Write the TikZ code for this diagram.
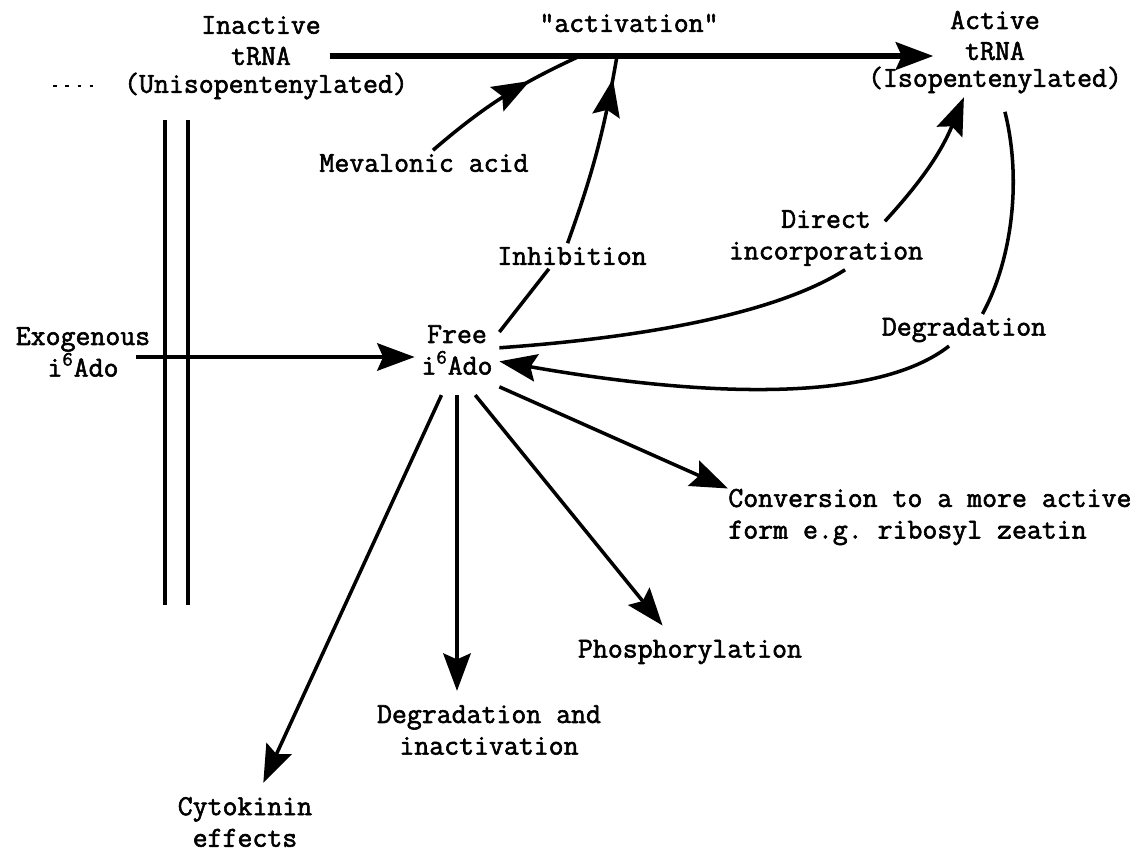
\documentclass[tikz,border=0pt]{standalone}
\usepackage{fontspec}
\setmonofont{Latin Modern Mono}[FakeBold=2]
\usetikzlibrary{arrows.meta,decorations.markings}
\tikzset{
	every node/.style={font=\ttfamily\fontsize{16.5}{18}\selectfont, inner sep=2pt, align=center},
	arr/.style={line width=2pt, -{Stealth[length=0.75cm,width=0.55cm,inset=0.12cm]}},
	midhead/.style={line width=2pt, postaction={decorate}, decoration={markings,
		mark=at position #1 with {\arrow{Stealth[length=0.75cm,width=0.55cm,inset=0.12cm]}}}},
	target/.style={inner sep=0.28cm}
}
\begin{document}
\begin{tikzpicture}[x=0.02cm, y=-0.02cm]
\useasboundingbox (0,0) rectangle (1147,856);
\node (inact) at (261,25) {Inactive};
\node (inact-t) at (261,56) {tRNA};
\node (unisop) at (266,86) {(Unisopentenylated)};
\node (activ) at (629,23) {"activation"};
\node (act) at (995,20) {Active};
\node (act-t) at (995,51) {tRNA};
\node (isop) at (995,80) {(Isopentenylated)};
\node (mev) at (424,163) {Mevalonic acid};
\node (inhib) at (572,256) {Inhibition};
\node (dinc) at (826,238) {Direct\\incorporation};
\node (deg) at (964,330) {Degradation};
\node (exo) at (83,352) {Exogenous\\i\textsuperscript{6}Ado};
\node[inner xsep=0.13cm, inner ysep=0.4cm] (free) at (457,350) {Free\\i\textsuperscript{6}Ado};
\node[anchor=west, align=left, inner sep=0pt] (conv) at (728,517) {Conversion to a more active\\form e.g. ribosyl zeatin};
\node[target] (phos) at (690,652) {Phosphorylation};
\node[target] (degin) at (489,730) {Degradation and\\inactivation};
\node[target] (cyto) at (245,822) {Cytokinin\\effects};
\coordinate (mev-end) at (580,56);
\coordinate (inh-end) at (617,56);
\draw[arr, line width=3pt, shorten <=0.7cm, shorten >=0.56cm] (inact-t.east) -- (inact-t.east -| act-t.west);
\draw[line width=1pt, dash pattern=on 2pt off 5pt, shorten >=0.4cm] (53,86) -- (unisop.west);
\draw[line width=1.8pt] (165,120) -- (165,605) (188,120) -- (188,605);
\draw[midhead=0.68] ([xshift=0.18cm]mev.north) to[bend left=8] (mev-end);
\draw[line width=2pt] (free.23) -- (inhib.-151);
\draw[midhead=0.88] (inhib.109) to[bend right=5] (inh-end);
\draw[line width=2pt] (free.3) .. controls (680,335) and (790,305) .. (dinc.-59);
\draw[arr] ([xshift=-0.84cm,yshift=-0.3cm]dinc.north east) to[bend right=10] (isop.-151);
\draw[line width=2pt, shorten <=0.3cm] (isop.-70) .. controls (1022,180) and (1012,260) .. (deg.41);
\draw[arr] (deg.-133) .. controls (880,400) and (720,400) .. (free.-15);
\draw[arr] ([xshift=-0.36cm,yshift=-0.1cm]exo.east) -- ([yshift=-0.1cm]exo.east -| free.west);
\draw[arr] (free.-41) -- (conv.north west);
\draw[arr] (free.-68) -- (phos.136);
\draw[arr] (free.south) -- (free.south |- degin.north);
\draw[arr] (free.-109) -- (cyto.65);
\end{tikzpicture}
\end{document}
